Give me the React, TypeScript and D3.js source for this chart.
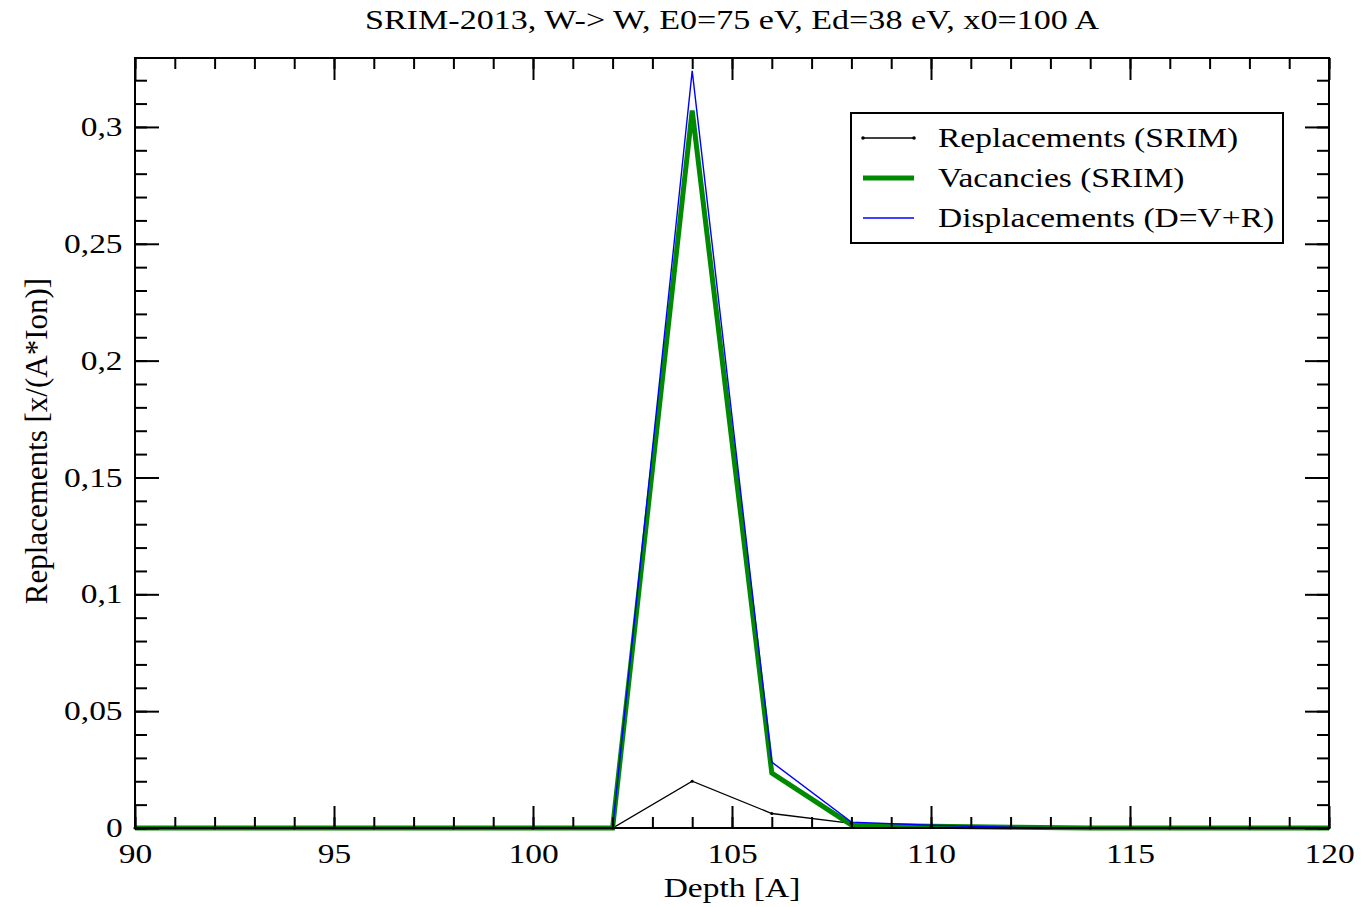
import React, { useEffect, useRef } from 'react';
import * as d3 from 'd3';

// depth [A] and the three profiles
const depth = [90, 92, 94, 96, 98, 100, 102, 104, 106, 108, 110, 112, 114, 116, 118, 120];
const replacements = [0, 0, 0, 0, 0, 0, 0, 0.0200, 0.0062, 0.0020, 0.0005, 0.0002, 0, 0, 0, 0];
const vacancies = [0, 0, 0, 0, 0, 0, 0, 0.3070, 0.0235, 0.0013, 0.0008, 0.0003, 0, 0, 0, 0];
const displacements = [0, 0, 0, 0, 0, 0, 0, 0.3240, 0.0282, 0.0025, 0.0012, 0.0003, 0, 0, 0, 0];

const xMajorTicks = [90, 95, 100, 105, 110, 115, 120];
const yMajorTicks = [0, 0.05, 0.1, 0.15, 0.2, 0.25, 0.3];
const yTickLabels = ['0', '0,05', '0,1', '0,15', '0,2', '0,25', '0,3'];

const legendLabels = ['Replacements (SRIM)', 'Vacancies (SRIM)', 'Displacements (D=V+R)'];

const FONT = '"Liberation Serif", "Times New Roman", serif';
const STRETCH = 1.24;

const App = () => {
  const svgRef = useRef<SVGSVGElement>(null);

  useEffect(() => {
    const svg = d3.select(svgRef.current);
    const width = 1364;
    const height = 907;
    const margin = { top: 58, right: 35, bottom: 79, left: 135 };
    const w = width - margin.left - margin.right;
    const h = height - margin.top - margin.bottom;

    svg.selectAll('*').remove();

    const x = d3.scaleLinear().domain([90, 120]).range([0, w]);
    const y = d3.scaleLinear().domain([0, 0.3295]).range([h, 0]);

    const g = svg.append('g')
      .attr('transform', `translate(${margin.left},${margin.top})`);

    // series
    const series = [
      { values: replacements, color: '#000000', width: 1.3 },
      { values: vacancies, color: '#008a00', width: 5 },
      { values: displacements, color: '#0000ff', width: 1.4 },
    ];

    const line = d3.line<number>()
      .x((d, i) => x(depth[i]))
      .y(d => y(d));

    series.forEach(s => {
      g.append('path')
        .datum(s.values)
        .attr('fill', 'none')
        .attr('stroke', s.color)
        .attr('stroke-width', s.width)
        .attr('stroke-linejoin', 'miter')
        .attr('d', line);
    });

    // small dots on replacements
    g.selectAll('.dot')
      .data(replacements)
      .enter().append('circle')
      .attr('class', 'dot')
      .attr('cx', (d, i) => x(depth[i]))
      .attr('cy', d => y(d))
      .attr('r', 1.6)
      .attr('fill', '#000');

    // ticks, all pointing inward
    const xMinor = d3.range(90, 121, 1);
    const yMinor = d3.range(0, 0.3201, 0.01);

    const styleAxis = (sel: any) => {
      sel.select('.domain').remove();
      sel.selectAll('line').attr('stroke', '#000').attr('stroke-width', 2);
    };

    g.append('g').attr('transform', `translate(0,${h})`)
      .call(d3.axisBottom(x).tickValues(xMinor).tickSize(-11).tickFormat(() => ''))
      .call(styleAxis);
    g.append('g')
      .call(d3.axisTop(x).tickValues(xMinor).tickSize(-11).tickFormat(() => ''))
      .call(styleAxis);
    g.append('g')
      .call(d3.axisTop(x).tickValues(xMajorTicks).tickSize(-22).tickFormat(() => ''))
      .call(styleAxis);

    const xAxis = g.append('g').attr('transform', `translate(0,${h})`)
      .call(d3.axisBottom(x).tickValues(xMajorTicks).tickSize(-22).tickPadding(16).tickFormat(d3.format('d')))
      .call(styleAxis);
    xAxis.selectAll('text')
      .attr('font-family', FONT)
      .attr('font-size', 27)
      .attr('fill', '#000')
      .attr('transform', `scale(${STRETCH},1)`);

    g.append('g')
      .call(d3.axisLeft(y).tickValues(yMinor).tickSize(-12).tickFormat(() => ''))
      .call(styleAxis);
    g.append('g').attr('transform', `translate(${w},0)`)
      .call(d3.axisRight(y).tickValues(yMinor).tickSize(-12).tickFormat(() => ''))
      .call(styleAxis);
    g.append('g').attr('transform', `translate(${w},0)`)
      .call(d3.axisRight(y).tickValues(yMajorTicks).tickSize(-24).tickFormat(() => ''))
      .call(styleAxis);

    const yAxis = g.append('g')
      .call(d3.axisLeft(y).tickValues(yMajorTicks).tickSize(-24).tickPadding(10)
        .tickFormat((d, i) => yTickLabels[i]))
      .call(styleAxis);
    yAxis.selectAll('text')
      .attr('font-family', FONT)
      .attr('font-size', 27)
      .attr('fill', '#000')
      .attr('transform', `scale(${STRETCH},1)`);

    // frame
    g.append('rect')
      .attr('width', w)
      .attr('height', h)
      .attr('fill', 'none')
      .attr('stroke', '#000')
      .attr('stroke-width', 2);

    // title and axis labels
    svg.append('text')
      .attr('transform', `translate(${margin.left + w / 2},29) scale(${STRETCH},1)`)
      .attr('text-anchor', 'middle')
      .attr('font-family', FONT)
      .attr('font-size', 27.5)
      .text('SRIM-2013, W-> W, E0=75 eV, Ed=38 eV, x0=100 A');

    svg.append('text')
      .attr('transform', `translate(${margin.left + w / 2},897) scale(${STRETCH},1)`)
      .attr('text-anchor', 'middle')
      .attr('font-family', FONT)
      .attr('font-size', 27)
      .text('Depth [A]');

    svg.append('text')
      .attr('transform', `translate(47,${margin.top + h / 2 - 2}) rotate(-90)`)
      .attr('text-anchor', 'middle')
      .attr('font-family', FONT)
      .attr('font-size', 31)
      .text('Replacements [x/(A*Ion)]');

    // legend
    const legend = svg.append('g').attr('transform', 'translate(851,113)');
    legend.append('rect')
      .attr('width', 432)
      .attr('height', 130)
      .attr('fill', '#fff')
      .attr('stroke', '#000')
      .attr('stroke-width', 2);

    legendLabels.forEach((label, i) => {
      const cy = 25 + i * 40;
      const s = series[i];
      legend.append('line')
        .attr('x1', 12).attr('x2', 63)
        .attr('y1', cy).attr('y2', cy)
        .attr('stroke', s.color)
        .attr('stroke-width', i === 1 ? 5 : s.width);
      if (i === 0) {
        [12, 63].forEach(px => legend.append('circle')
          .attr('cx', px).attr('cy', cy).attr('r', 1.8).attr('fill', '#000'));
      }
      legend.append('text')
        .attr('transform', `translate(87,${cy + 9}) scale(${STRETCH},1)`)
        .attr('font-family', FONT)
        .attr('font-size', 27)
        .text(label);
    });
  }, []);

  return (
    <svg
      ref={svgRef}
      width={1364}
      height={907}
      style={{ position: 'absolute', left: 0, top: 0, background: '#fff' }}
    />
  );
};

export default App;
